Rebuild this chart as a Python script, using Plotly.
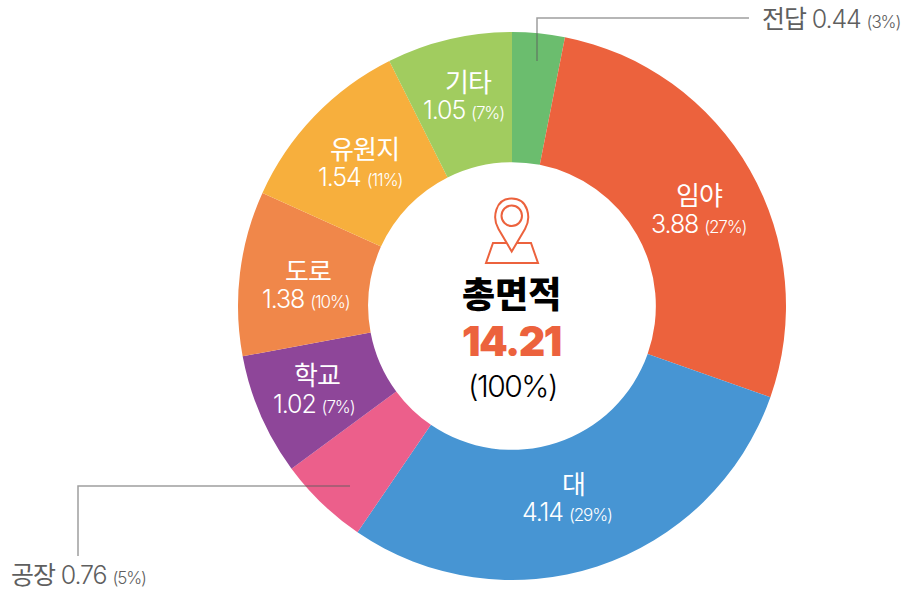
import plotly.graph_objects as go

W, H = 909, 591
categories = ["전답", "임야", "대", "공장", "학교", "도로", "유원지", "기타"]
values = [0.44, 3.88, 4.14, 0.76, 1.02, 1.38, 1.54, 1.05]
shares = [3, 27, 29, 5, 7, 10, 11, 7]
colors = ["#6BBD6E", "#EC623D", "#4795D3", "#EC5F8B", "#8E4699", "#F0874A", "#F7AF3D", "#A1CC5F"]
total = 14.21
total_label = "총면적"
total_share = "(100%)"

FONT = "Inter, 'Noto Sans CJK KR', sans-serif"
LS = "letter-spacing:-1.1px"

def px(x):
    return x / W

def py(y):
    return 1 - y / H

def ann(x, y, text, size, color, xanchor="center"):
    return dict(x=px(x), y=py(y), xref="paper", yref="paper", text=text, showarrow=False,
                xanchor=xanchor, yanchor="middle", align="center",
                font=dict(family=FONT, size=size, color=color))

fig = go.Figure(go.Pie(
    labels=categories, values=values, sort=False, direction="clockwise", rotation=0,
    hole=0.525, textinfo="none", hoverinfo="label+value",
    marker=dict(colors=colors, line=dict(width=0)),
    domain=dict(x=[px(238), px(786)], y=[py(580), py(32)]),
    showlegend=False,
))

inside = {"임야": (699, 196, 699, 224), "대": (573, 484, 567, 512), "학교": (317, 375, 313.5, 404),
          "도로": (308, 271, 306, 299), "유원지": (364, 149, 359.5, 177), "기타": (468, 82, 463, 110)}
annotations = []
for c, v, s in zip(categories, values, shares):
    if c in inside:
        x1, y1, x2, y2 = inside[c]
        annotations.append(ann(x1, y1, f'<span style="letter-spacing:-0.8px">{c}</span>', 26, "white"))
        annotations.append(ann(x2, y2, f'<span style="{LS};font-weight:300">{v:.2f} <span style="font-size:17px">({s}%)</span></span>', 25, "white"))

gray = "#5f5f5f"
def outside(c):
    i = categories.index(c)
    return (f'<span style="{LS};font-weight:300"><span style="font-size:25px;font-weight:400">{c}</span> '
            f'{values[i]:.2f} <span style="font-size:17px">({shares[i]}%)</span></span>')

annotations.append(ann(760, 19, outside("전답"), 25, gray, "left"))
annotations.append(ann(9, 575, outside("공장"), 25, gray, "left"))
annotations.append(ann(511, 295, f'<span style="font-weight:900">{total_label}</span>', 36, "black"))
annotations.append(ann(511, 341, f'<span style="font-weight:900;letter-spacing:-1.5px">{total:.2f}</span>', 41, "#EC623D"))
annotations.append(ann(512, 386, f'<span style="letter-spacing:-1.5px;font-weight:300">{total_share}</span>', 30, "black"))

def xy(x, y):
    return f"{px(x):.5f},{py(y):.5f}"

def P(points):
    return "M" + " L".join(xy(x, y) for x, y in points)

lead = dict(color="rgba(95,95,95,0.6)", width=1.5)
pin = dict(color="#EC623D", width=2)
pin_path = (f"M{xy(511.7, 251.5)} L{xy(498.5, 229)} "
            f"C{xy(492, 218)} {xy(495, 198.5)} {xy(511.7, 198.5)} "
            f"C{xy(528.4, 198.5)} {xy(531.4, 218)} {xy(525, 229)} Z")
shapes = [
    dict(type="path", xref="paper", yref="paper", path=P([(537, 61), (537, 18), (749, 18)]), line=lead),
    dict(type="path", xref="paper", yref="paper", path=P([(350, 486), (78, 486), (78, 556)]), line=lead),
    dict(type="path", xref="paper", yref="paper", line=pin, path=pin_path),
    dict(type="circle", xref="paper", yref="paper", x0=px(501.5), x1=px(522), y0=py(226), y1=py(205.5), line=pin),
    dict(type="path", xref="paper", yref="paper", line=pin,
         path=P([(507, 243), (493, 243), (486, 263), (538, 263), (531, 243), (516, 243)])),
]

fig.update_layout(width=W, height=H, margin=dict(l=0, r=0, t=0, b=0), paper_bgcolor="white",
                  plot_bgcolor="white", annotations=annotations, shapes=shapes,
                  font=dict(family=FONT))
fig.write_html("out.html", config=dict(displayModeBar=False),
               post_script="document.body.style.margin='0';document.documentElement.style.overflow='hidden';")
